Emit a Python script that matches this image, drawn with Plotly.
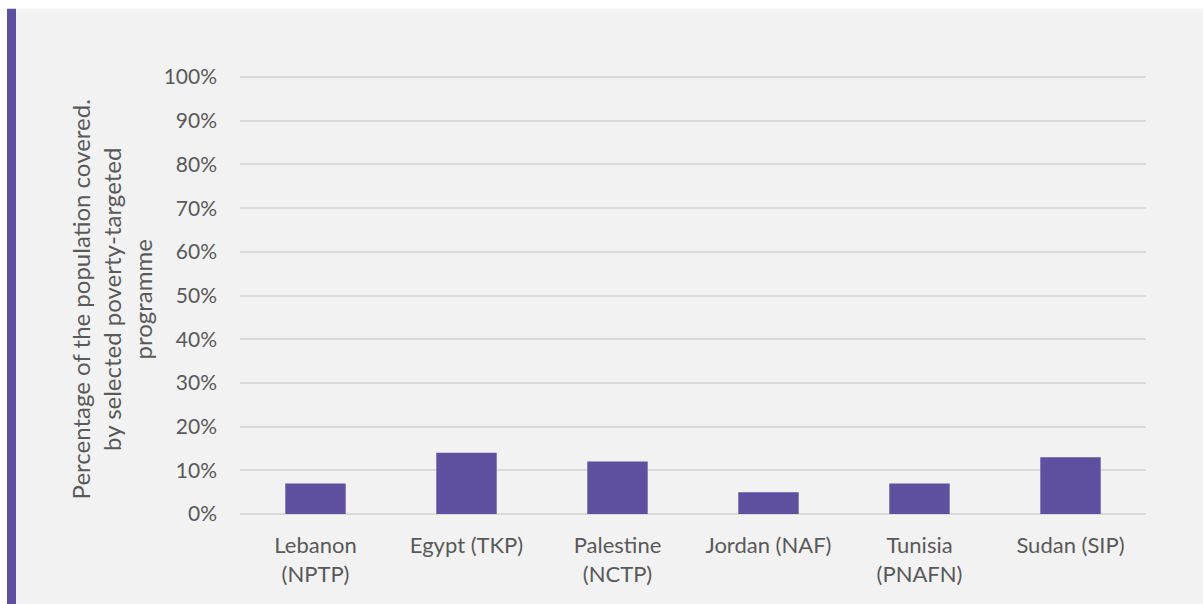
import plotly.graph_objects as go

# Programme coverage by country
countries = ["Lebanon<br>(NPTP)", "Egypt (TKP)", "Palestine<br>(NCTP)",
             "Jordan (NAF)", "Tunisia<br>(PNAFN)", "Sudan (SIP)"]
coverage = [7, 14, 12, 5, 7, 13]
y_ticks = list(range(0, 101, 10))
y_tick_labels = [f"{v}%" for v in y_ticks]

BAR = "#5F4F9F"
PANEL = "#F2F2F2"
TEXT = "#595959"
GRID = "#D9D9D9"
FONT = "Lato"

fig = go.Figure(go.Bar(x=countries, y=coverage, marker_color=BAR,
                       marker_line_width=0, hoverinfo="x+y"))

W, H = 1203, 604
L, R, T, B = 240, 57, 77, 90
pw, ph = W - L - R, H - T - B


def px_x(p):
    return (p - L) / pw


def px_y(p):
    return (H - B - p) / ph


shapes = [
    # grey panel behind the chart
    dict(type="rect", xref="paper", yref="paper", layer="below",
         x0=px_x(7), x1=px_x(W + 5), y0=px_y(H + 5), y1=px_y(10),
         fillcolor=PANEL, line_width=0),
    # accent strip on the left edge
    dict(type="rect", xref="paper", yref="paper", layer="below",
         x0=px_x(7), x1=px_x(16), y0=px_y(H + 5), y1=px_y(10),
         fillcolor=BAR, line_width=0),
]

fig.update_layout(
    width=W, height=H,
    margin=dict(l=L, r=R, t=T - 1, b=B, pad=0),
    paper_bgcolor="white",
    plot_bgcolor="rgba(0,0,0,0)",
    bargap=0.6,
    showlegend=False,
    shapes=shapes,
    font=dict(family=FONT, size=22, color=TEXT),
    annotations=[dict(
        text="Percentage of the population covered.<br>by selected poverty-targeted<br>programme",
        xref="paper", yref="paper", x=px_x(111), y=0.49,
        xanchor="center", yanchor="middle", textangle=-90,
        showarrow=False, font=dict(family=FONT, size=24, color=TEXT),
    )],
)

fig.update_yaxes(
    range=[0, 100.25], tickvals=y_ticks, ticktext=y_tick_labels,
    showgrid=True, gridcolor=GRID, gridwidth=1.5,
    zeroline=True, zerolinecolor=GRID, zerolinewidth=1.5,
    showline=False, ticks="", ticklabelstandoff=22,
    tickfont=dict(family=FONT, size=21, color=TEXT), fixedrange=True,
)
fig.update_xaxes(
    showgrid=False, showline=False, ticks="", ticklabelstandoff=16,
    tickfont=dict(family=FONT, size=22, color=TEXT), fixedrange=True,
)

fig.write_html("out.html")
